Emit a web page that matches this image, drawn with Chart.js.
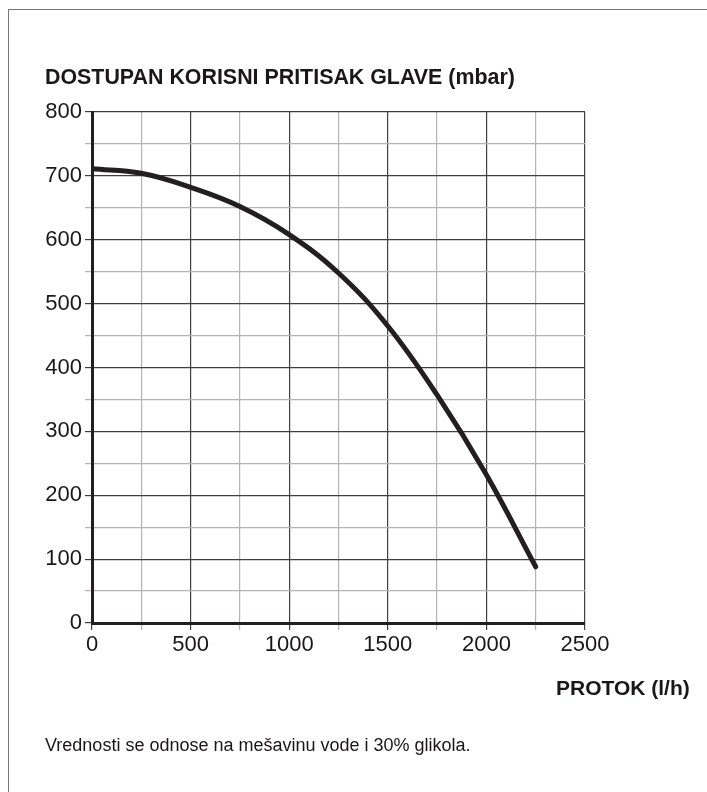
<!DOCTYPE html>
<html>
<head>
<meta charset="utf-8">
<script src="https://cdn.jsdelivr.net/npm/chart.js@4.4.1/dist/chart.umd.min.js"></script>
<style>
  html, body { margin: 0; padding: 0; background: #fff; }
  body { width: 707px; height: 792px; position: relative; overflow: hidden; font-family: "Liberation Sans", Arial, sans-serif; color: #1a1718; }
  #frame { position: absolute; left: 8px; top: 9px; right: -5px; bottom: -5px; border-top: 1.5px solid #777; border-left: 1.5px solid #777; }
  canvas { position: absolute; left: 0; top: 0; }
  .t { position: absolute; white-space: nowrap; line-height: 21px; }
  #ytitle { left: 45px; top: 67px; font-size: 21.4px; font-weight: bold; }
  #xtitle { left: 556px; top: 677px; font-size: 21px; font-weight: bold; }
  #note { left: 45px; top: 735px; font-size: 18px; }
</style>
</head>
<body>
<div id="frame"></div>
<canvas id="c" width="707" height="792"></canvas>
<div class="t" id="ytitle">DOSTUPAN KORISNI PRITISAK GLAVE (mbar)</div>
<div class="t" id="xtitle">PROTOK (l/h)</div>
<div class="t" id="note">Vrednosti se odnose na mešavinu vode i 30% glikola.</div>
<script>
// Data
const flowLh = [0, 250, 500, 750, 1000, 1250, 1500, 1750, 2000, 2250];
const headMbar = [711, 704, 682, 652, 608, 548, 465, 357, 232, 88];
const xTickLabels = [0, 500, 1000, 1500, 2000, 2500];
const yTickLabels = [0, 100, 200, 300, 400, 500, 600, 700, 800];

const points = flowLh.map((x, i) => ({ x: x, y: headMbar[i] }));
const FONT = "'Liberation Sans', Arial, sans-serif";
const MAJOR = '#404040', MINOR = '#b4b4b4';

new Chart(document.getElementById('c'), {
  type: 'line',
  data: {
    datasets: [{
      data: points,
      borderColor: '#231f20',
      borderWidth: 5,
      borderCapStyle: 'round',
      borderJoinStyle: 'round',
      pointRadius: 0,
      fill: false,
      tension: 0.4
    }]
  },
  options: {
    responsive: false,
    animation: false,
    events: [],
    layout: { padding: { left: 0, top: 112, right: 122, bottom: 0 } },
    plugins: { legend: { display: false }, tooltip: { enabled: false }, title: { display: false } },
    scales: {
      x: {
        type: 'linear',
        min: 0, max: 2500,
        afterFit: s => { s.height = 169; },
        afterBuildTicks: s => { s.ticks = []; for (let v = 0; v <= 2500; v += 250) s.ticks.push({ value: v }); },
        ticks: {
          padding: 2,
          maxRotation: 0,
          autoSkip: false,
          color: '#1a1718',
          font: { family: FONT, size: 22 },
          callback: v => xTickLabels.includes(v) ? String(v) : ''
        },
        grid: {
          tickLength: 7,
          lineWidth: 1.2,
          color: c => (c.tick && c.tick.value % 500 === 0) ? MAJOR : MINOR
        },
        border: { display: true, color: '#231f20', width: 3 }
      },
      y: {
        type: 'linear',
        min: 0, max: 800,
        afterFit: s => { s.width = 92; },
        afterBuildTicks: s => { s.ticks = []; for (let v = 0; v <= 800; v += 50) s.ticks.push({ value: v }); },
        ticks: {
          padding: 3,
          autoSkip: false,
          color: '#1a1718',
          font: { family: FONT, size: 22 },
          callback: v => yTickLabels.includes(v) ? String(v) : ''
        },
        grid: {
          tickLength: 7,
          lineWidth: 1.2,
          color: c => (c.tick && c.tick.value % 100 === 0) ? MAJOR : MINOR
        },
        border: { display: true, color: '#231f20', width: 3 }
      }
    }
  }
});
</script>
</body>
</html>
